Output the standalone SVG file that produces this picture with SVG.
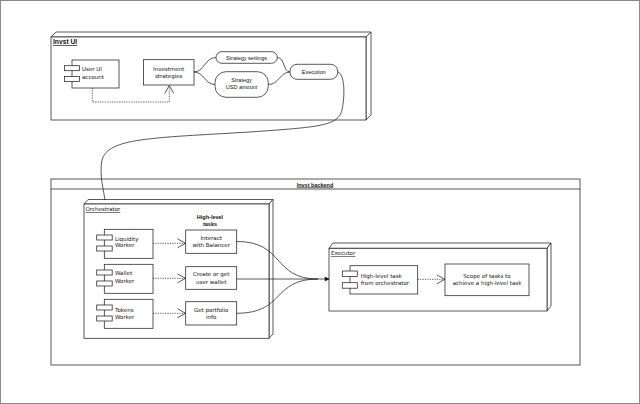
<svg xmlns="http://www.w3.org/2000/svg" width="640" height="404" viewBox="0 0 640 404">
<style>
.box{fill:#fff;stroke:#222;stroke-width:0.75}
.side{fill:#fff;stroke:#222;stroke-width:0.75}
.t{font-family:"DejaVu Sans",Verdana,sans-serif;font-size:5.5px;fill:#111}
.h{font-family:"Liberation Sans",Arial,sans-serif;font-size:5.5px;fill:#111}
.b{font-family:"Liberation Sans",Arial,sans-serif;font-size:5.5px;font-weight:bold;fill:#111}
.u{text-decoration:underline}
.c{text-anchor:middle}
.ln{fill:none;stroke:#222;stroke-width:0.75}
.dot{fill:none;stroke:#222;stroke-width:0.75;stroke-dasharray:1.2 1.2}
</style>
<defs>
<marker id="open" markerUnits="userSpaceOnUse" markerWidth="10" markerHeight="10" refX="8" refY="4.5" orient="auto" overflow="visible">
<path d="M0,0 L8,4.5 L0,9" fill="none" stroke="#222" stroke-width="0.75"/>
</marker>
<marker id="fill" markerUnits="userSpaceOnUse" markerWidth="6" markerHeight="6" refX="4" refY="2" orient="auto" overflow="visible">
<path d="M0,0 L4,2 L0,4 Z" fill="#111" stroke="#111" stroke-width="0.5"/>
</marker>
</defs>
<rect x="0.5" y="0.5" width="639" height="403" fill="#fff" stroke="#888" stroke-width="1"/>

<g id="invst-ui">
<path class="side" d="M51,37 L56,32 L371,32 L366,37 Z"/>
<path class="side" d="M366,37 L371,32 L371,115 L366,120 Z"/>
<rect class="box" x="51" y="37" width="315" height="83"/>
<text class="b u" x="53" y="44" style="font-size:6.7px">Invst UI</text>
</g>

<g id="user-ui-account">
<rect class="box" x="72" y="60" width="47" height="28"/>
<rect class="box" x="64.5" y="65.7" width="15" height="5"/>
<rect class="box" x="64.5" y="76.5" width="15" height="5"/>
<text class="t" x="82" y="71">User UI</text>
<text class="t" x="82" y="78.8">account</text>
</g>

<g id="investment-strategies">
<rect class="box" x="143.5" y="59.7" width="50.5" height="25.3"/>
<text class="t c" x="168.7" y="71">Investment</text>
<text class="t c" x="168.7" y="78">strategies</text>
</g>

<g id="strategy-settings">
<rect class="box" x="216" y="51.7" width="61.3" height="11.6" rx="5.8"/>
<text class="h c" x="246.6" y="59.6">Strategy settings</text>
</g>

<g id="strategy-usd-amount">
<rect class="box" x="215" y="71.7" width="53.3" height="25.6" rx="11"/>
<text class="h c" x="241.6" y="81.5">Strategy</text>
<text class="h c" x="241.6" y="88.8">USD amount</text>
</g>

<g id="execution">
<rect class="box" x="290" y="64.3" width="47.7" height="15" rx="7"/>
<text class="h c" x="313.8" y="73.6">Execution</text>
</g>

<g id="invst-backend">
<rect class="box" x="51" y="179" width="529" height="186"/>
<line class="ln" x1="51" y1="189" x2="580" y2="189"/>
<text class="b u c" x="315" y="186.5">Invst backend</text>
</g>

<g id="orchestrator">
<path class="side" d="M84,204 L88,199.5 L273,199.5 L269,204 Z"/>
<path class="side" d="M269,204 L273,199.5 L273,334 L269,338.3 Z"/>
<rect class="box" x="84" y="204" width="185" height="134.3"/>
<text class="t u" x="85.5" y="211">Orchestrator</text>
<text class="b c" x="210" y="219.2">High-level</text>
<text class="b c" x="210" y="225.6">tasks</text>
</g>

<g id="liquidity-worker">
<rect class="box" x="104.3" y="229.3" width="48.7" height="29"/>
<rect class="box" x="96.7" y="235" width="15.5" height="5"/>
<rect class="box" x="96.7" y="246" width="15.5" height="5"/>
<text class="t" x="115" y="240.5">Liquidity</text>
<text class="t" x="115" y="247.3">Worker</text>
</g>

<g id="wallet-worker">
<rect class="box" x="104.3" y="264.3" width="48.7" height="29"/>
<rect class="box" x="96.7" y="270" width="15.5" height="5"/>
<rect class="box" x="96.7" y="281" width="15.5" height="5"/>
<text class="t" x="115" y="275.2">Wallet</text>
<text class="t" x="115" y="282.6">Worker</text>
</g>

<g id="tokens-worker">
<rect class="box" x="104.3" y="299.3" width="48.7" height="29"/>
<rect class="box" x="96.7" y="305" width="15.5" height="5"/>
<rect class="box" x="96.7" y="316" width="15.5" height="5"/>
<text class="t" x="115" y="311.5">Tokens</text>
<text class="t" x="115" y="318.8">Worker</text>
</g>

<g id="interact-with-balancer">
<rect class="box" x="185.7" y="230" width="51" height="23.3"/>
<text class="t c" x="211.2" y="240">Interact</text>
<text class="t c" x="211.2" y="247.4">with Balancer</text>
</g>

<g id="create-or-get-user-wallet">
<rect class="box" x="185.7" y="266.7" width="51" height="22.6"/>
<text class="t c" x="211.2" y="276.2">Create or get</text>
<text class="t c" x="211.2" y="283.5">user wallet</text>
</g>

<g id="get-portfolio-info">
<rect class="box" x="185.7" y="301.7" width="51" height="23.3"/>
<text class="t c" x="211.2" y="311.7">Get portfolio</text>
<text class="t c" x="211.2" y="319">info</text>
</g>

<g id="executor">
<path class="side" d="M329,248.3 L333,243 L551,243 L547,248.3 Z"/>
<path class="side" d="M547,248.3 L551,243 L551,306 L547,311 Z"/>
<rect class="box" x="329" y="248.3" width="218" height="62.7"/>
<text class="t u" x="331" y="255">Executor</text>
</g>

<g id="high-level-task-from-orchestrator">
<rect class="box" x="350" y="265.7" width="67.7" height="28.3"/>
<rect class="box" x="342.3" y="271" width="15" height="5.5"/>
<rect class="box" x="342.3" y="282.7" width="15" height="5.5"/>
<text class="t" x="360.7" y="277.6">High-level task</text>
<text class="t" x="360.7" y="285">from orchestrator</text>
</g>

<g id="scope-of-tasks">
<rect class="box" x="445" y="264" width="84" height="31.7"/>
<text class="t c" x="487" y="278.3">Scope of tasks to</text>
<text class="t c" x="487" y="284.8">achieve a high-level task</text>
</g>

<g id="connectors">
<path class="dot" d="M92.3,88 L92.3,102 L169.3,102 L169.3,85.5" marker-end="url(#open)"/>
<path class="ln" d="M194,72 C204,72 205,57.5 216,57.5"/>
<path class="ln" d="M194,72 C204,72 205,84.5 215,84.5"/>
<path class="ln" d="M277.3,57.5 C285,57.5 283,72 290,72"/>
<path class="ln" d="M268.3,84.5 C279,84.5 280,72 290,72"/>
<path class="ln" d="M337.7,72 C345,74 345,96 342,110 C338,126 320,127 250,132 C150,138 108,138 102,160 C99,175 104,192 105,200"/>
<path class="dot" d="M153,243.3 L185.5,243.3" marker-end="url(#open)"/>
<path class="dot" d="M153,278.3 L185.5,278.3" marker-end="url(#open)"/>
<path class="dot" d="M153,313.3 L185.5,313.3" marker-end="url(#open)"/>
<path class="ln" d="M236.7,241.5 C285,241.5 272,279 318,279"/>
<path class="ln" d="M236.7,313.3 C285,313.3 272,279 318,279"/>
<path class="ln" d="M236.7,279 L329,279" marker-end="url(#fill)"/>
<path class="dot" d="M417.7,279.3 L444.8,279.3" marker-end="url(#open)"/>
</g>
</svg>
